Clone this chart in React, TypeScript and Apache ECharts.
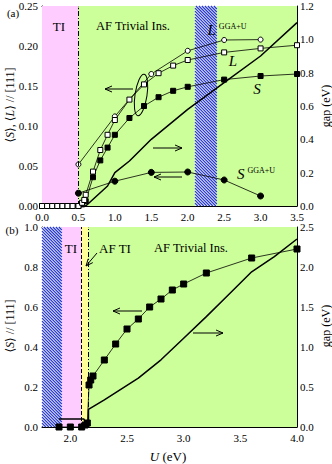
import React, { useEffect, useRef } from 'react';
import * as echarts from 'echarts';

// ---------- Panel (a) data ----------
const topLU = [0.0, 0.07, 0.14, 0.21, 0.28, 0.35, 0.42, 0.5, 0.55, 0.58, 0.6, 0.7, 0.8, 0.9, 1.0, 1.2, 1.4, 1.6, 1.8, 2.0, 2.5, 3.0, 3.5];
const topL = [0, 0, 0, 0, 0, 0, 0, 0, 0.004, 0.0075, 0.014, 0.043, 0.07, 0.089, 0.1075, 0.133, 0.152, 0.166, 0.1755, 0.1825, 0.192, 0.197, 0.201];
const topSU = [0.0, 0.07, 0.14, 0.21, 0.28, 0.35, 0.42, 0.5, 0.55, 0.6, 0.7, 0.8, 0.9, 1.0, 1.2, 1.4, 1.6, 1.8, 2.0, 2.5, 3.0, 3.5];
const topS = [0, 0, 0, 0, 0, 0, 0, 0, 0.002, 0.006, 0.036, 0.057, 0.073, 0.089, 0.11, 0.125, 0.136, 0.144, 0.149, 0.158, 0.1625, 0.165];
const ggaU = [0.5, 1.0, 1.5, 2.0, 2.5, 3.0];
const ggaL = [0.052, 0.112, 0.165, 0.194, 0.2075, 0.208];
const ggaS = [0.016, 0.031, 0.042, 0.0425, 0.0325, 0.0125];
const topGapU = [0.0, 0.5, 0.6, 0.9, 1.0, 1.2, 1.5, 2.0, 2.5, 3.0, 3.5];
const topGap = [0.012, 0.012, 0.0, 0.12, 0.2, 0.27, 0.4, 0.58, 0.74, 0.9, 1.1];
const topPhases = [[0.0, 0.5], [0.5, 3.5]];
const topHatch = [2.1, 2.4];

// ---------- Panel (b) data ----------
const botSU = [1.9, 2.0, 2.1, 2.13, 2.15, 2.165, 2.18, 2.2, 2.3, 2.4, 2.5, 2.6, 2.7, 2.8, 2.9, 3.0, 3.2, 3.6, 4.0];
const botS = [0, 0, 0, 0.01, 0.02, 0.21, 0.235, 0.255, 0.335, 0.415, 0.49, 0.54, 0.6, 0.64, 0.685, 0.715, 0.77, 0.845, 0.89];
const botGapU = [1.9, 2.12, 2.15, 2.16, 2.16, 2.3, 2.6, 2.8, 3.0, 3.2, 3.4, 3.6, 3.8, 4.0];
const botGap = [0.1, 0.1, 0.0, 0.0, 0.22, 0.34, 0.61, 0.84, 1.11, 1.38, 1.66, 1.94, 2.13, 2.35];
const botPhases = [[1.925, 2.1], [2.1, 2.16], [2.16, 4.0]];
const botHatch = [1.75, 1.925];

const FONT = '"Liberation Serif", "DejaVu Serif", serif';
const PINK = '#ffccff';
const GREEN = '#ccff99';
const YELLOW = '#ffff99';

const zip = (xs: number[], ys: number[]) => xs.map((x, i) => [x, ys[i]]);

function hatchRender(params: any, api: any) {
  const x0 = api.value(0);
  const x1 = api.value(1);
  const cs = params.coordSys;
  const left = api.coord([x0, 0])[0];
  const right = api.coord([x1, 0])[0];
  const top = cs.y;
  const bottom = cs.y + cs.height;
  const children: any[] = [
    { type: 'rect', shape: { x: left, y: top, width: right - left, height: bottom - top }, style: { fill: '#eef1ff' } },
  ];
  const step = 3;
  for (let c = top - right; c <= bottom - left; c += step) {
    const xa = Math.max(left, top - c);
    const xb = Math.min(right, bottom - c);
    if (xb > xa) {
      children.push({ type: 'line', shape: { x1: xa, y1: xa + c, x2: xb, y2: xb + c }, style: { stroke: '#2535cc', lineWidth: 1.15 } });
    }
  }
  return { type: 'group', children };
}

function arrow(x1: number, y1: number, x2: number, y2: number) {
  const ang = Math.atan2(y2 - y1, x2 - x1);
  const L = 7, W = 3;
  const bx = x2 - L * Math.cos(ang), by = y2 - L * Math.sin(ang);
  const nx = -Math.sin(ang), ny = Math.cos(ang);
  return [
    { type: 'line', z: 100, shape: { x1, y1, x2, y2 }, style: { stroke: '#000', lineWidth: 1 } },
    { type: 'polyline', z: 100, shape: { points: [[bx + nx * W, by + ny * W], [x2, y2], [bx - nx * W, by - ny * W]] }, style: { stroke: '#000', fill: 'none', lineWidth: 1 } },
  ];
}

function txt(x: number, y: number, text: string, size = 12, extra: any = {}, rich: any = undefined) {
  return {
    type: 'text', z: 100, x, y, ...extra,
    style: { text, fontFamily: FONT, fontSize: size, fill: '#000', align: 'center', verticalAlign: 'middle', rich },
  };
}

const tickStyle = { show: true, inside: true, length: 4, lineStyle: { color: '#000', width: 1 } };
const minorStyle = { show: true, splitNumber: 2, length: 2.5, lineStyle: { color: '#000', width: 1 } };
const lineAx = { show: true, onZero: false, lineStyle: { color: '#000', width: 1 } };
const labelStyle = { color: '#000', fontFamily: FONT, fontSize: 11 };

export default function App() {
  const ref = useRef<HTMLDivElement>(null);
  useEffect(() => {
    if (!ref.current) return;
    const chart = echarts.init(ref.current, undefined, { renderer: 'svg' });

    const sym = (shape: string, size: number, fill: string) => ({
      symbol: shape, symbolSize: size, showSymbol: true,
      itemStyle: { color: fill, borderColor: '#000', borderWidth: 1 },
      lineStyle: { color: '#000', width: 0.8 },
    });

    const richItalic = {
      i: { fontFamily: FONT, fontSize: 12, fontStyle: 'italic', fill: '#000' },
      n: { fontFamily: FONT, fontSize: 12, fill: '#000' },
    };
    const supRich = {
      i: { fontFamily: FONT, fontSize: 15, fontStyle: 'italic', fill: '#000', verticalAlign: 'bottom' },
      s: { fontFamily: FONT, fontSize: 8, fill: '#000', verticalAlign: 'top', padding: [0, 0, 0, 3] },
    };

    const option: any = {
      animation: false,
      backgroundColor: '#fff',
      grid: [
        { left: 42, top: 6, width: 255, height: 200 },
        { left: 42, top: 227, width: 255, height: 200 },
      ],
      xAxis: [
        { type: 'value', gridIndex: 0, min: 0, max: 3.5, interval: 0.5, axisLine: lineAx, axisTick: tickStyle, minorTick: minorStyle, splitLine: { show: false },
          axisLabel: { ...labelStyle, margin: 5, formatter: (v: number) => v.toFixed(1) } },
        { type: 'value', gridIndex: 0, position: 'top', min: 0, max: 3.5, interval: 0.5, axisLine: lineAx, axisTick: tickStyle, minorTick: minorStyle, splitLine: { show: false }, axisLabel: { show: false } },
        { type: 'value', gridIndex: 1, min: 1.75, max: 4.0, interval: 0.25, axisLine: lineAx, axisTick: tickStyle, splitLine: { show: false },
          axisLabel: { ...labelStyle, margin: 5, formatter: (v: number) => (Math.abs(v * 2 - Math.round(v * 2)) < 1e-6 ? v.toFixed(1) : '') } },
        { type: 'value', gridIndex: 1, position: 'top', min: 1.75, max: 4.0, interval: 0.25, axisLine: lineAx, axisTick: tickStyle, splitLine: { show: false }, axisLabel: { show: false } },
      ],
      yAxis: [
        { type: 'value', gridIndex: 0, min: 0, max: 0.25, interval: 0.05, axisLine: lineAx, axisTick: tickStyle, minorTick: minorStyle, splitLine: { show: false },
          axisLabel: { ...labelStyle, margin: 4, formatter: (v: number) => v.toFixed(2) } },
        { type: 'value', gridIndex: 0, position: 'right', min: 0, max: 1.2, interval: 0.2, axisLine: lineAx, axisTick: tickStyle, minorTick: minorStyle, splitLine: { show: false },
          axisLabel: { ...labelStyle, margin: 3, formatter: (v: number) => v.toFixed(1) } },
        { type: 'value', gridIndex: 1, min: 0, max: 1.0, interval: 0.2, axisLine: lineAx, axisTick: tickStyle, minorTick: minorStyle, splitLine: { show: false },
          axisLabel: { ...labelStyle, margin: 4, formatter: (v: number) => v.toFixed(1) } },
        { type: 'value', gridIndex: 1, position: 'right', min: 0, max: 2.5, interval: 0.5, axisLine: lineAx, axisTick: tickStyle, minorTick: minorStyle, splitLine: { show: false },
          axisLabel: { ...labelStyle, margin: 3, formatter: (v: number) => v.toFixed(1) } },
      ],
      series: [
        // ---- panel (a) backgrounds ----
        {
          type: 'line', xAxisIndex: 0, yAxisIndex: 0, data: [], z: 1, silent: true,
          markArea: {
            silent: true, label: { show: false },
            data: topPhases.map((p, i) => [
              { xAxis: p[0], itemStyle: { color: i === 0 ? PINK : GREEN, opacity: 1 } },
              { xAxis: p[1] },
            ]),
          },
          markLine: {
            silent: true, symbol: 'none', label: { show: false },
            lineStyle: { color: '#000', width: 1, type: [5, 2, 1, 2] },
            data: [{ xAxis: topPhases[0][1] }],
          },
        },
        { type: 'custom', xAxisIndex: 0, yAxisIndex: 0, z: 2, silent: true, renderItem: hatchRender, encode: { x: [0, 1], y: 2 }, data: [[topHatch[0], topHatch[1], 0]] },
        // ---- panel (a) data ----
        { type: 'line', xAxisIndex: 0, yAxisIndex: 1, z: 3, data: zip(topGapU, topGap), showSymbol: false, symbol: 'none', lineStyle: { color: '#000', width: 1.5 } },
        { type: 'line', xAxisIndex: 0, yAxisIndex: 0, z: 4, data: zip(ggaU, ggaS), ...sym('circle', 6, '#000') },
        { type: 'line', xAxisIndex: 0, yAxisIndex: 0, z: 4, data: zip(ggaU, ggaL), ...sym('circle', 5, '#fff') },
        { type: 'line', xAxisIndex: 0, yAxisIndex: 0, z: 5, data: zip(topSU, topS), ...sym('rect', 5, '#000') },
        { type: 'line', xAxisIndex: 0, yAxisIndex: 0, z: 5, data: zip(topLU, topL), ...sym('rect', 5, '#fff') },
        // ---- panel (b) backgrounds ----
        {
          type: 'line', xAxisIndex: 2, yAxisIndex: 2, data: [], z: 1, silent: true,
          markArea: {
            silent: true, label: { show: false },
            data: botPhases.map((p, i) => [
              { xAxis: p[0], itemStyle: { color: [PINK, YELLOW, GREEN][i], opacity: 1 } },
              { xAxis: p[1] },
            ]),
          },
          markLine: {
            silent: true, symbol: 'none', label: { show: false },
            data: [
              { xAxis: botPhases[0][1], lineStyle: { color: '#000', width: 1, type: [4, 2] } },
              { xAxis: botPhases[1][1], lineStyle: { color: '#000', width: 1, type: [5, 2, 1, 2] } },
            ],
          },
        },
        { type: 'custom', xAxisIndex: 2, yAxisIndex: 2, z: 2, silent: true, renderItem: hatchRender, encode: { x: [0, 1], y: 2 }, data: [[botHatch[0], botHatch[1], 0]] },
        // ---- panel (b) data ----
        { type: 'line', xAxisIndex: 2, yAxisIndex: 3, z: 3, data: zip(botGapU, botGap), showSymbol: false, symbol: 'none', lineStyle: { color: '#000', width: 1.5 } },
        { type: 'line', xAxisIndex: 2, yAxisIndex: 2, z: 5, data: zip(botSU, botS), ...sym('rect', 6, '#000') },
      ],
      graphic: [
        // panel labels
        txt(13, 13, '(a)', 11),
        txt(12, 230, '(b)', 11),
        // phase labels (a)
        txt(59, 26, 'TI', 13),
        txt(133, 26, 'AF Trivial Ins.', 12.5),
        // phase labels (b)
        txt(71, 248, 'TI', 13),
        txt(115, 248, 'AF TI', 13),
        txt(191, 248, 'AF Trivial Ins.', 12.5),
        // curve labels
        txt(227, 30, '{i|L}{s|GGA+U}', 15, {}, supRich),
        txt(233, 61, '{i|L}', 15, {}, supRich),
        txt(257, 89, '{i|S}', 15, {}, supRich),
        txt(256, 174, '{i|S}{s|GGA+U}', 15, {}, supRich),
        // axis titles
        txt(10, 105, '⟨{i|S}⟩, ⟨{i|L}⟩ // [111]', 12, { rotation: Math.PI / 2 }, richItalic),
        txt(10, 326, '⟨{i|S}⟩ // [111]', 12, { rotation: Math.PI / 2 }, richItalic),
        txt(326, 106, 'gap (eV)', 12, { rotation: Math.PI / 2 }),
        txt(326, 326, 'gap (eV)', 12, { rotation: Math.PI / 2 }),
        txt(168, 456, '{i|U} (eV)', 13, {}, { i: { fontFamily: FONT, fontSize: 13, fontStyle: 'italic', fill: '#000' } }),
        // ellipse around L / S data
        { type: 'ellipse', z: 100, x: 141, y: 95, rotation: -0.15, shape: { cx: 0, cy: 0, rx: 6, ry: 21 }, style: { fill: 'none', stroke: '#000', lineWidth: 1 } },
        // arrows (a)
        ...arrow(133, 89, 105, 89),
        ...arrow(153, 148, 182, 148),
        ...arrow(182, 177, 154, 177),
        // arrows (b)
        ...arrow(142, 311, 113, 311),
        ...arrow(193, 333, 223, 333),
        ...arrow(97, 253, 86, 266),
      ],
    };

    chart.setOption(option);
    return () => chart.dispose();
  }, []);

  return <div ref={ref} style={{ position: 'fixed', left: 0, top: 0, width: 332, height: 464 }} />;
}
